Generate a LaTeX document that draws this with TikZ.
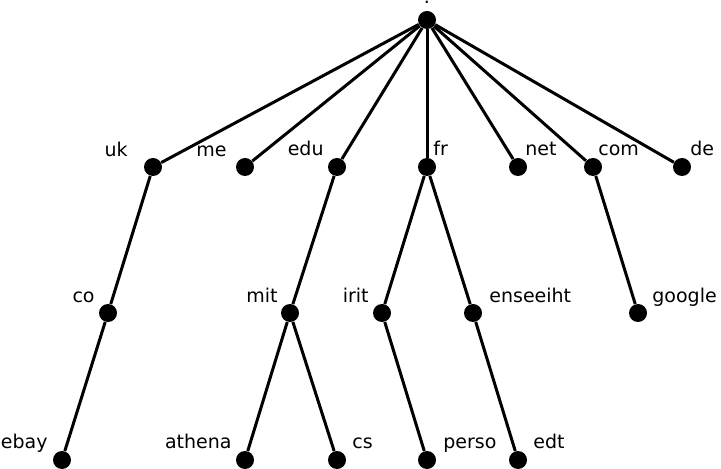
\documentclass[tikz,border=0pt]{standalone}
\usepackage{fontspec}
\setmainfont{DejaVu Sans}
\usetikzlibrary{positioning}
\tikzset{
    dot/.style={
        circle,
        fill=black,
        inner sep=0pt,
        minimum size=9pt
    },
    tagl/.style={
        anchor=base east,
        inner sep=0pt,
        font=\fontsize{9.5}{11}\selectfont
    },
    tagr/.style={
        anchor=base west,
        inner sep=0pt,
        font=\fontsize{9.5}{11}\selectfont
    },
    edge/.style={
        line width=1.5pt,
        black
    }
}
\begin{document}
\begin{tikzpicture}[x=0.5pt, y=-0.5pt]
        \useasboundingbox (0,0) rectangle (721,469);

        % Root
        \node[dot] (root) at (427,20) {};
        \node[anchor=base, inner sep=0pt, font=\fontsize{9.5}{11}\selectfont] (root-t) at (427,4) {.};

        % Top-level domains
        \node[dot] (uk) at (153,167) {};
        \node[dot] (me) at (245,167) {};
        \node[dot] (edu) at (337,167) {};
        \node[dot] (fr) at (427,167) {};
        \node[dot] (net) at (518,167) {};
        \node[dot] (com) at (593,167) {};
        \node[dot] (de) at (682,167) {};

        \node[tagl] (uk-t) at ([shift={(-25,-10)}]uk) {uk};
        \node[tagl] (me-t) at ([shift={(-18,-10)}]me) {me};
        \node[tagl] (edu-t) at ([shift={(-13,-11)}]edu) {edu};
        \node[tagr] (fr-t) at ([shift={(6,-11)}]fr) {fr};
        \node[tagr] (net-t) at ([shift={(7,-11)}]net) {net};
        \node[tagr] (com-t) at ([shift={(5,-11)}]com) {com};
        \node[tagr] (de-t) at ([shift={(8,-11)}]de) {de};

        % Second level
        \node[dot] (co) at (108,313) {};
        \node[dot] (mit) at (290,313) {};
        \node[dot] (irit) at (382,313) {};
        \node[dot] (enseeiht) at (473,313) {};
        \node[dot] (google) at (638,313) {};

        \node[tagl] (co-t) at ([shift={(-13,-10)}]co) {co};
        \node[tagl] (mit-t) at ([shift={(-12,-10)}]mit) {mit};
        \node[tagl] (irit-t) at ([shift={(-13,-10)}]irit) {irit};
        \node[tagr] (enseeiht-t) at ([shift={(16,-10)}]enseeiht) {enseeiht};
        \node[tagr] (google-t) at ([shift={(14,-10)}]google) {google};

        % Third level
        \node[dot] (ebay) at (62,460) {};
        \node[dot] (athena) at (245,460) {};
        \node[dot] (cs) at (337,460) {};
        \node[dot] (perso) at (427,460) {};
        \node[dot] (edt) at (518,460) {};

        \node[tagl] (ebay-t) at ([shift={(-14,-12)}]ebay) {ebay};
        \node[tagl] (athena-t) at ([shift={(-13,-12)}]athena) {athena};
        \node[tagr] (cs-t) at ([shift={(15,-12)}]cs) {cs};
        \node[tagr] (perso-t) at ([shift={(16,-12)}]perso) {perso};
        \node[tagr] (edt-t) at ([shift={(15,-12)}]edt) {edt};

        % Links
        \draw[edge] (root) -- (uk);
        \draw[edge] (root) -- (me);
        \draw[edge] (root) -- (edu);
        \draw[edge] (root) -- (fr);
        \draw[edge] (root) -- (net);
        \draw[edge] (root) -- (com);
        \draw[edge] (root) -- (de);

        \draw[edge] (uk) -- (co);
        \draw[edge] (co) -- (ebay);
        \draw[edge] (edu) -- (mit);
        \draw[edge] (mit) -- (athena);
        \draw[edge] (mit) -- (cs);
        \draw[edge] (fr) -- (irit);
        \draw[edge] (fr) -- (enseeiht);
        \draw[edge] (irit) -- (perso);
        \draw[edge] (enseeiht) -- (edt);
        \draw[edge] (com) -- (google);
    \end{tikzpicture}
\end{document}
